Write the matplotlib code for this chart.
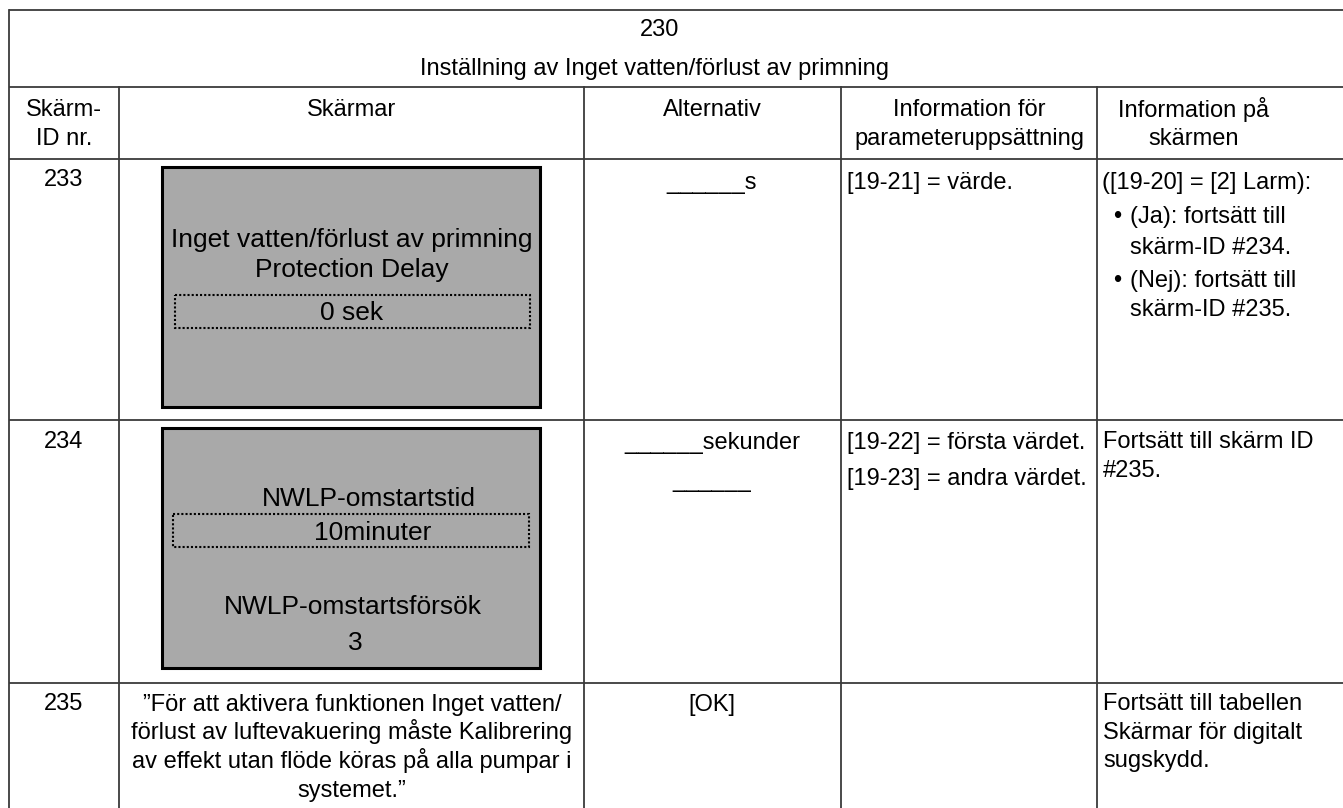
import matplotlib.pyplot as plt
from matplotlib.patches import Rectangle

plt.rcParams['font.family'] = ['Liberation Sans', 'DejaVu Sans']

# table content
title = "230"
subtitle = "Inställning av Inget vatten/förlust av primning"
headers = ["Skärm-\nID nr.", "Skärmar", "Alternativ",
           "Information för\nparameteruppsättning", "Information på\nskärmen"]
screen_ids = ["233", "234", "235"]
screen1_lines = ["Inget vatten/förlust av primning", "Protection Delay", "0 sek"]
screen2_lines = ["NWLP-omstartstid", "10minuter", "NWLP-omstartsförsök", "3"]
screen3_text = ("”För att aktivera funktionen Inget vatten/\nförlust av luftevakuering måste Kalibrering\n"
                "av effekt utan flöde köras på alla pumpar i\nsystemet.”")
alternatives = ["______s", "______sekunder", "______", "[OK]"]
param_info = ["[19-21] = värde.", "[19-22] = första värdet.", "[19-23] = andra värdet."]
info_233_head = "([19-20] = [2] Larm):"
info_233_bullets = ["(Ja): fortsätt till\nskärm-ID #234.", "(Nej): fortsätt till\nskärm-ID #235."]
info_234 = "Fortsätt till skärm ID\n#235."
info_235 = "Fortsätt till tabellen\nSkärmar för digitalt\nsugskydd."

# the table runs off the right edge of the picture
col_edges = [9, 119, 584, 841, 1097, 1343]
row_edges = [10, 87, 159, 420, 683, 808]
header_x = [64, 352, 712, 969, 1194]

fs = 17
fs_screen = 19
line_col = "#3a3a3a"

fig = plt.figure(figsize=(13.43, 8.08), dpi=100)
ax = fig.add_axes([0, 0, 1, 1])
ax.set_xlim(0, 1343)
ax.set_ylim(808, 0)
ax.axis("off")


def put(x, y, txt, ha="center", gap=28.5, size=fs):
    # y is the vertical middle of the capitals of the first line
    for i, line in enumerate(txt.split("\n")):
        ax.text(x, y + i * gap + size * 0.5, line, ha=ha, va="baseline", fontsize=size, color="black")


# grid
for y in row_edges[:-1]:
    ax.plot([col_edges[0], col_edges[-1]], [y, y], color=line_col, lw=1.3, solid_capstyle="butt")
ax.plot([col_edges[0]] * 2, [row_edges[0], 808], color=line_col, lw=1.3)
for x in col_edges[1:-1]:
    ax.plot([x, x], [row_edges[1], 808], color=line_col, lw=1.3)

put(660, 28, title)
put(655, 66, subtitle)
for cx, h in zip(header_x, headers):
    put(cx, 108, h)

# id column
for y, sid in zip([178, 439, 702], screen_ids):
    put(header_x[0], y, sid)

# screen mock-ups
for (x0, y0, x1, y1) in [(162, 167, 540, 407), (162, 428, 540, 668)]:
    ax.add_patch(Rectangle((x0, y0), x1 - x0, y1 - y0, facecolor="#a9a9a9",
                           edgecolor="black", lw=2.2))
for (x0, y0, x1, y1) in [(175, 295, 530, 328), (173, 514, 529, 547)]:
    ax.add_patch(Rectangle((x0, y0), x1 - x0, y1 - y0, facecolor="none",
                           edgecolor="black", lw=1.5, linestyle=(0, (1, 1))))

for y, s in zip([237, 268, 311], screen1_lines):
    put(352, y, s, size=fs_screen)
for (x, y), s in zip([(369, 496), (373, 530), (353, 605), (355, 640)], screen2_lines):
    put(x, y, s, size=fs_screen)
put(header_x[1], 702, screen3_text, gap=28.7)

# alternatives
for y, s in zip([180, 440, 478, 703], alternatives):
    put(header_x[2], y, s)

# parameter info
for y, s in zip([180, 440, 477], param_info):
    put(col_edges[3] + 6, y, s, ha="left")

# on-screen info
put(col_edges[4] + 5, 180, info_233_head, ha="left")
for y, s in zip([215, 278], info_233_bullets):
    put(col_edges[4] + 16, y, "•", ha="left")
    put(col_edges[4] + 33, y, s, ha="left", gap=30)
put(col_edges[4] + 6, 440, info_234, ha="left")
put(col_edges[4] + 6, 702, info_235, ha="left")

plt.savefig("out.png", dpi=100)
